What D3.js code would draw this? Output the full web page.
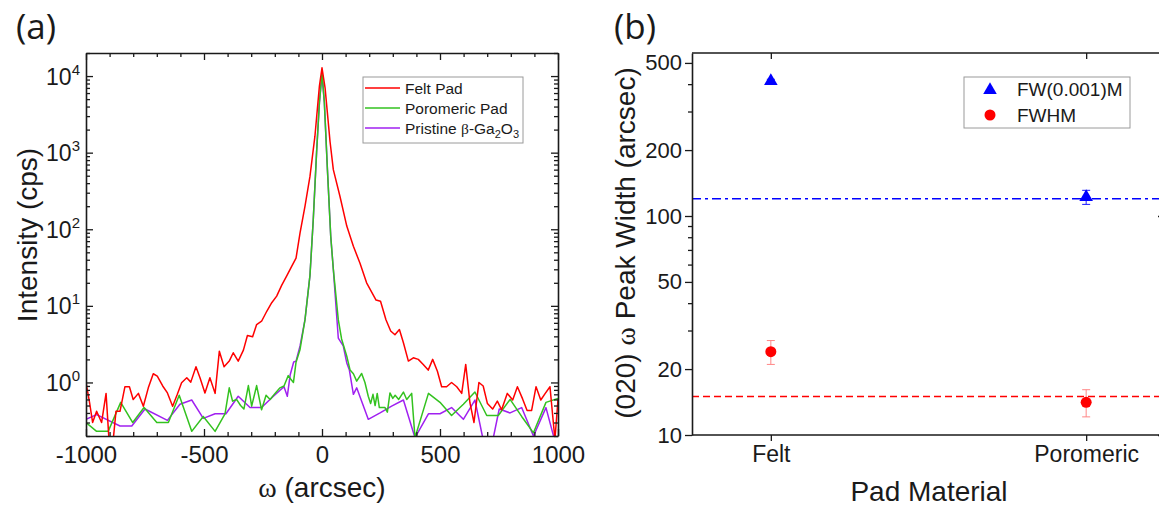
<!DOCTYPE html>
<html>
<head>
<meta charset="utf-8">
<script src="https://cdn.jsdelivr.net/npm/d3@7"></script>
<style>
  html, body { margin: 0; padding: 0; background: #fff; }
  svg { display: block; font-family: "Liberation Sans", Arial, sans-serif; }
</style>
</head>
<body>
<svg id="fig" width="1159" height="506"></svg>
<script>
// (a) omega rocking curves
const feltOmega = [-1000,-985,-972,-955,-934,-915,-901,-887,-873,-856,-835,-816,-800,-778,-757,-736,-715,-698,-675,-655,-633,-613,-595,-573,-556,-534,-517,-496,-475,-453,-435,-415,-393,-376,-355,-333,-316,-294,-277,-256,-234,-213,-192,-171,-150,-128,-110,-93,-72,-51,-30,-11,0,13,25,34,48,76,105,133,161,189,229,248,271,291,309,328,345,366,387,408,429,450,469,489,507,528,549,571,592,609,627,644,665,683,701,723,743,761,785,808,828,850,869,888,907,927,946,966,987,1000];
const feltCps = [1.0,0.55,0.30,0.42,0.30,0.72,0.15,0.15,0.42,0.42,0.88,0.88,0.60,0.72,0.49,0.85,1.30,1.21,0.90,0.73,0.49,0.70,0.99,1.15,1.01,1.60,1.15,0.73,1.15,0.72,2.56,1.60,1.90,2.44,1.90,2.64,4.11,3.95,5.7,6.3,8.5,11.0,13.4,18.5,24.4,33,42,90,200,490,1640,7400,12800,7000,2800,1400,600,270,110,60,36,20,11.9,11.5,6.6,4.7,4.2,4.9,3.3,1.9,2.1,2.0,1.72,1.45,2.0,1.40,0.88,0.88,1.0,0.88,0.72,1.72,0.54,0.30,1.0,0.90,0.53,0.45,0.57,0.44,0.72,0.59,0.88,0.61,0.43,0.43,0.88,0.59,0.72,0.88,0.18,0.6];

const poroOmega = [-1000,-955,-906,-853,-802,-754,-700,-651,-605,-552,-503,-453,-411,-393,-379,-362,-345,-331,-312,-298,-277,-256,-237,-220,-199,-178,-161,-143,-132,-121,-110,-93,-72,-51,-37,-23,-11,0,10,23,37,48,69,83,105,119,133,147,168,182,196,206,216,225,234,243,267,277,288,300,310,325,345,359,380,394,451,500,549,599,648,698,747,797,846,896,949,1000];
const poroCps = [0.30,0.23,0.23,0.55,0.30,0.47,0.30,0.30,0.68,0.23,0.36,0.23,0.39,0.85,0.57,0.60,0.50,0.45,0.91,0.49,0.91,0.44,0.68,0.60,0.72,0.85,0.90,1.23,1.1,1.0,1.84,2.7,6.6,25,134,1000,4500,11000,4500,600,81,30,6.6,3.7,2.2,1.45,1.3,1.04,1.31,1.0,0.66,0.53,0.70,0.50,0.72,0.47,0.47,0.41,0.73,0.62,0.68,0.6,0.75,0.60,0.72,0.19,0.72,0.55,0.37,0.52,0.75,0.37,0.37,0.60,0.36,0.22,0.55,0.62];

const pristOmega = [-1000,-955,-856,-806,-750,-655,-602,-552,-503,-453,-407,-355,-305,-256,-206,-161,-147,-135,-120,-110,-93,-72,-51,-37,-23,-11,0,10,23,37,48,69,90,105,116,133,147,196,246,295,345,394,451,500,549,599,648,681,719,751,797,846,896,949,983,1000];
const pristCps = [0.33,0.38,0.27,0.27,0.45,0.32,0.52,0.59,0.34,0.39,0.39,0.66,0.47,0.47,0.66,0.88,0.66,1.25,1.85,1.9,3.0,6.6,25,134,1000,4500,10500,4500,600,81,30,3.8,3.0,1.8,1.45,0.70,0.85,0.33,0.40,0.49,0.59,0.19,0.39,0.39,0.47,0.33,0.59,0.19,0.15,0.45,0.40,0.47,0.20,0.47,0.19,0.12];

const xMajorA = [-1000, -500, 0, 500, 1000];
const yDecadesA = [1, 10, 100, 1000, 10000];

// (b) peak widths
const padMaterials = ["Felt", "Poromeric"];
const fw001m = [413, 122];
const fw001mErr = [8, 9];
const fwhm = [24.0, 14.1];
const fwhmErr = [3.0, 2.0];
const fw001mRef = 120;
const fwhmRef = 15;
const yLabelsB = [10, 20, 50, 100, 200, 500];
const yMinorB = [30, 40, 60, 70, 80, 90, 300, 400];

const svg = d3.select('#fig');
const ink = '#1a1a1a';

function styleAxis(g, size, keepDomain) {
  g.attr('font-family', '"Liberation Sans", Arial, sans-serif').attr('font-size', size);
  g.selectAll('text').attr('fill', ink);
  g.selectAll('line').attr('stroke', ink).attr('stroke-width', 1.3);
  if (keepDomain) g.select('.domain').attr('stroke', ink).attr('stroke-width', 1.6).attr('fill', 'none');
  else g.select('.domain').remove();
}

// ---------- panel (a) ----------
const xA = d3.scaleLinear().domain([-1000, 1000]).range([86, 558]);
const yA = d3.scaleLog().domain([0.2, 2e4]).range([436, 53]);
const xMinorA = d3.range(-900, 1000, 100).filter(v => v % 500 !== 0);
const yMinorA = [];
[0.1, 1, 10, 100, 1000, 10000].forEach(dec => {
  for (let k = 2; k <= 9; k++) { const v = k * dec; if (v >= 0.2 && v <= 2e4) yMinorA.push(v); }
});

const pa = svg.append('g');
pa.append('clipPath').attr('id', 'clipA').append('rect')
  .attr('x', 86).attr('y', 53).attr('width', 472).attr('height', 383);

const line = d3.line().x(d => xA(d[0])).y(d => yA(d[1]));
const curves = [
  {om: pristOmega, cps: pristCps, color: '#a020f0'},
  {om: poroOmega, cps: poroCps, color: '#33c21f'},
  {om: feltOmega, cps: feltCps, color: '#ff0000'}
];
const cg = pa.append('g').attr('clip-path', 'url(#clipA)');
curves.forEach(c => {
  cg.append('path').datum(d3.zip(c.om, c.cps)).attr('d', line)
    .attr('fill', 'none').attr('stroke', c.color).attr('stroke-width', 1.5).attr('stroke-linejoin', 'round');
});

// axes, ticks pointing in on all four sides
const bA = pa.append('g').attr('transform', 'translate(0,436)')
  .call(d3.axisBottom(xA).tickValues(xMajorA).tickSizeInner(-7).tickSizeOuter(0).tickPadding(10).tickFormat(d => d));
styleAxis(bA, 24, true);
styleAxis(pa.append('g').attr('transform', 'translate(0,436)')
  .call(d3.axisBottom(xA).tickValues(xMinorA).tickSize(-4).tickFormat('')), 10);
styleAxis(pa.append('g').attr('transform', 'translate(0,53)')
  .call(d3.axisTop(xA).tickValues(xMajorA).tickSizeInner(-7).tickSizeOuter(0).tickFormat('')), 10, true);
styleAxis(pa.append('g').attr('transform', 'translate(0,53)')
  .call(d3.axisTop(xA).tickValues(xMinorA).tickSize(-4).tickFormat('')), 10);

const lA = pa.append('g').attr('transform', 'translate(86,0)')
  .call(d3.axisLeft(yA).tickValues(yDecadesA).tickSizeInner(-7).tickSizeOuter(0).tickPadding(6).tickFormat(() => ''));
styleAxis(lA, 23, true);
lA.selectAll('.tick text').attr('dy', 8).each(function(d) {
  const t = d3.select(this);
  t.append('tspan').text('10');
  t.append('tspan').attr('dy', -10).attr('font-size', 15).text(Math.round(Math.log10(d)));
});
styleAxis(pa.append('g').attr('transform', 'translate(86,0)')
  .call(d3.axisLeft(yA).tickValues(yMinorA).tickSize(-4).tickFormat('')), 10);
styleAxis(pa.append('g').attr('transform', 'translate(558,0)')
  .call(d3.axisRight(yA).tickValues(yDecadesA).tickSizeInner(-7).tickSizeOuter(0).tickFormat('')), 10, true);
styleAxis(pa.append('g').attr('transform', 'translate(558,0)')
  .call(d3.axisRight(yA).tickValues(yMinorA).tickSize(-4).tickFormat('')), 10);

pa.append('text').attr('transform', 'translate(27,235) rotate(-90)')
  .attr('text-anchor', 'middle').attr('dominant-baseline', 'central')
  .attr('font-size', 28).attr('fill', ink).text('Intensity (cps)');
const xtA = pa.append('text').attr('x', 322).attr('y', 497).attr('text-anchor', 'middle')
  .attr('font-size', 28).attr('fill', ink);
xtA.append('tspan').attr('font-family', '"Liberation Serif", serif').text('ω');
xtA.append('tspan').text(' (arcsec)');

pa.append('text').attr('x', 16).attr('y', 39).attr('font-family', '"Open Sans", sans-serif')
  .attr('font-size', 35).attr('fill', ink).text('(a)');

// legend (a)
const legA = pa.append('g');
legA.append('rect').attr('x', 363).attr('y', 77).attr('width', 160).attr('height', 66)
  .attr('fill', '#fff').attr('stroke', '#9a9a9a').attr('stroke-width', 1);
const legItemsA = [
  {color: '#ff0000', y: 88},
  {color: '#33c21f', y: 108},
  {color: '#a020f0', y: 128}
];
legItemsA.forEach(it => {
  legA.append('line').attr('x1', 365).attr('x2', 400).attr('y1', it.y).attr('y2', it.y)
    .attr('stroke', it.color).attr('stroke-width', 1.5);
});
legA.append('text').attr('x', 405).attr('y', 93.5).attr('font-size', 15.5).attr('fill', ink).text('Felt Pad');
legA.append('text').attr('x', 405).attr('y', 113.5).attr('font-size', 15.5).attr('fill', ink).text('Poromeric Pad');
const pt = legA.append('text').attr('x', 405).attr('y', 133.5).attr('font-size', 15.5).attr('fill', ink);
pt.append('tspan').text('Pristine ');
pt.append('tspan').attr('font-family', '"Liberation Serif", serif').text('β');
pt.append('tspan').text('-Ga');
pt.append('tspan').attr('font-size', 11).attr('dy', 4).text('2');
pt.append('tspan').attr('dy', -4).text('O');
pt.append('tspan').attr('font-size', 11).attr('dy', 4).text('3');

// ---------- panel (b) ----------
const xB = d3.scalePoint().domain(padMaterials).range([692, 1165]).padding(0.25);
const yB = d3.scaleLog().domain([10, 555]).range([435, 53]);
const pb = svg.append('g');

// reference lines
pb.append('line').attr('x1', 692).attr('x2', 1165).attr('y1', yB(fw001mRef)).attr('y2', yB(fw001mRef))
  .attr('stroke', '#0000ff').attr('stroke-width', 1.5).attr('stroke-dasharray', '9 4 3 4');
pb.append('line').attr('x1', 692).attr('x2', 1165).attr('y1', yB(fwhmRef)).attr('y2', yB(fwhmRef))
  .attr('stroke', '#ff0000').attr('stroke-width', 1.5).attr('stroke-dasharray', '7 4');

// error bars
function errBars(vals, errs, color, opacity) {
  padMaterials.forEach((m, i) => {
    const x = xB(m), y0 = yB(vals[i] - errs[i]), y1 = yB(vals[i] + errs[i]);
    const g = pb.append('g').attr('stroke', color).attr('stroke-width', 1).attr('opacity', opacity);
    g.append('line').attr('x1', x).attr('x2', x).attr('y1', y0).attr('y2', y1);
    g.append('line').attr('x1', x - 4).attr('x2', x + 4).attr('y1', y0).attr('y2', y0);
    g.append('line').attr('x1', x - 4).attr('x2', x + 4).attr('y1', y1).attr('y2', y1);
  });
}
errBars(fw001m, fw001mErr, '#0000ff', 0.9);
errBars(fwhm, fwhmErr, '#ff5555', 0.7);

const tri = d3.symbol(d3.symbolTriangle, 80);
const circ = d3.symbol(d3.symbolCircle, 95);
pb.selectAll('.tri').data(padMaterials).enter().append('path')
  .attr('d', tri).attr('transform', (d, i) => `translate(${xB(d)},${yB(fw001m[i])})`).attr('fill', '#0000ff');
pb.selectAll('.dot').data(padMaterials).enter().append('path')
  .attr('d', circ).attr('transform', (d, i) => `translate(${xB(d)},${yB(fwhm[i])})`).attr('fill', '#ff0000');

// axes
const bB = pb.append('g').attr('transform', 'translate(0,435)')
  .call(d3.axisBottom(xB).tickSizeInner(6).tickSizeOuter(0).tickPadding(5));
styleAxis(bB, 23, true);
bB.select('.domain').attr('d', 'M692,0H1165');
const tB = pb.append('g').attr('transform', 'translate(0,53)')
  .call(d3.axisTop(xB).tickSizeInner(-6).tickSizeOuter(0).tickFormat(''));
styleAxis(tB, 10, true);
tB.select('.domain').attr('d', 'M692,0H1165');

const lB = pb.append('g').attr('transform', 'translate(692,0)')
  .call(d3.axisLeft(yB).tickValues(yLabelsB).tickSizeInner(7).tickSizeOuter(0).tickPadding(3).tickFormat(d3.format('d')));
styleAxis(lB, 22, true);
styleAxis(pb.append('g').attr('transform', 'translate(692,0)')
  .call(d3.axisLeft(yB).tickValues(yMinorB).tickSize(4).tickFormat('')), 10);
styleAxis(pb.append('g').attr('transform', 'translate(1165,0)')
  .call(d3.axisRight(yB).tickValues([10, 100]).tickSizeInner(-7).tickSizeOuter(0).tickFormat('')), 10, true);

const ytB = pb.append('text').attr('transform', 'translate(625,243) rotate(-90)')
  .attr('text-anchor', 'middle').attr('dominant-baseline', 'central')
  .attr('font-size', 28).attr('fill', ink);
ytB.append('tspan').text('(020) ');
ytB.append('tspan').attr('font-family', '"Liberation Serif", serif').text('ω');
ytB.append('tspan').text(' Peak Width (arcsec)');
pb.append('text').attr('x', 929).attr('y', 501).attr('text-anchor', 'middle')
  .attr('font-size', 28).attr('fill', ink).text('Pad Material');
pb.append('text').attr('x', 614).attr('y', 39).attr('font-family', '"Open Sans", sans-serif')
  .attr('font-size', 35).attr('fill', ink).text('(b)');

// legend (b)
const legB = pb.append('g');
legB.append('rect').attr('x', 964).attr('y', 77).attr('width', 166).attr('height', 51)
  .attr('fill', '#fff').attr('stroke', '#9a9a9a').attr('stroke-width', 1);
legB.append('path').attr('d', tri).attr('transform', 'translate(990,90)').attr('fill', '#0000ff');
legB.append('path').attr('d', circ).attr('transform', 'translate(990,115)').attr('fill', '#ff0000');
legB.append('text').attr('x', 1017).attr('y', 96).attr('font-size', 19).attr('fill', ink).text('FW(0.001)M');
legB.append('text').attr('x', 1017).attr('y', 122).attr('font-size', 19).attr('fill', ink).text('FWHM');
</script>
</body>
</html>
